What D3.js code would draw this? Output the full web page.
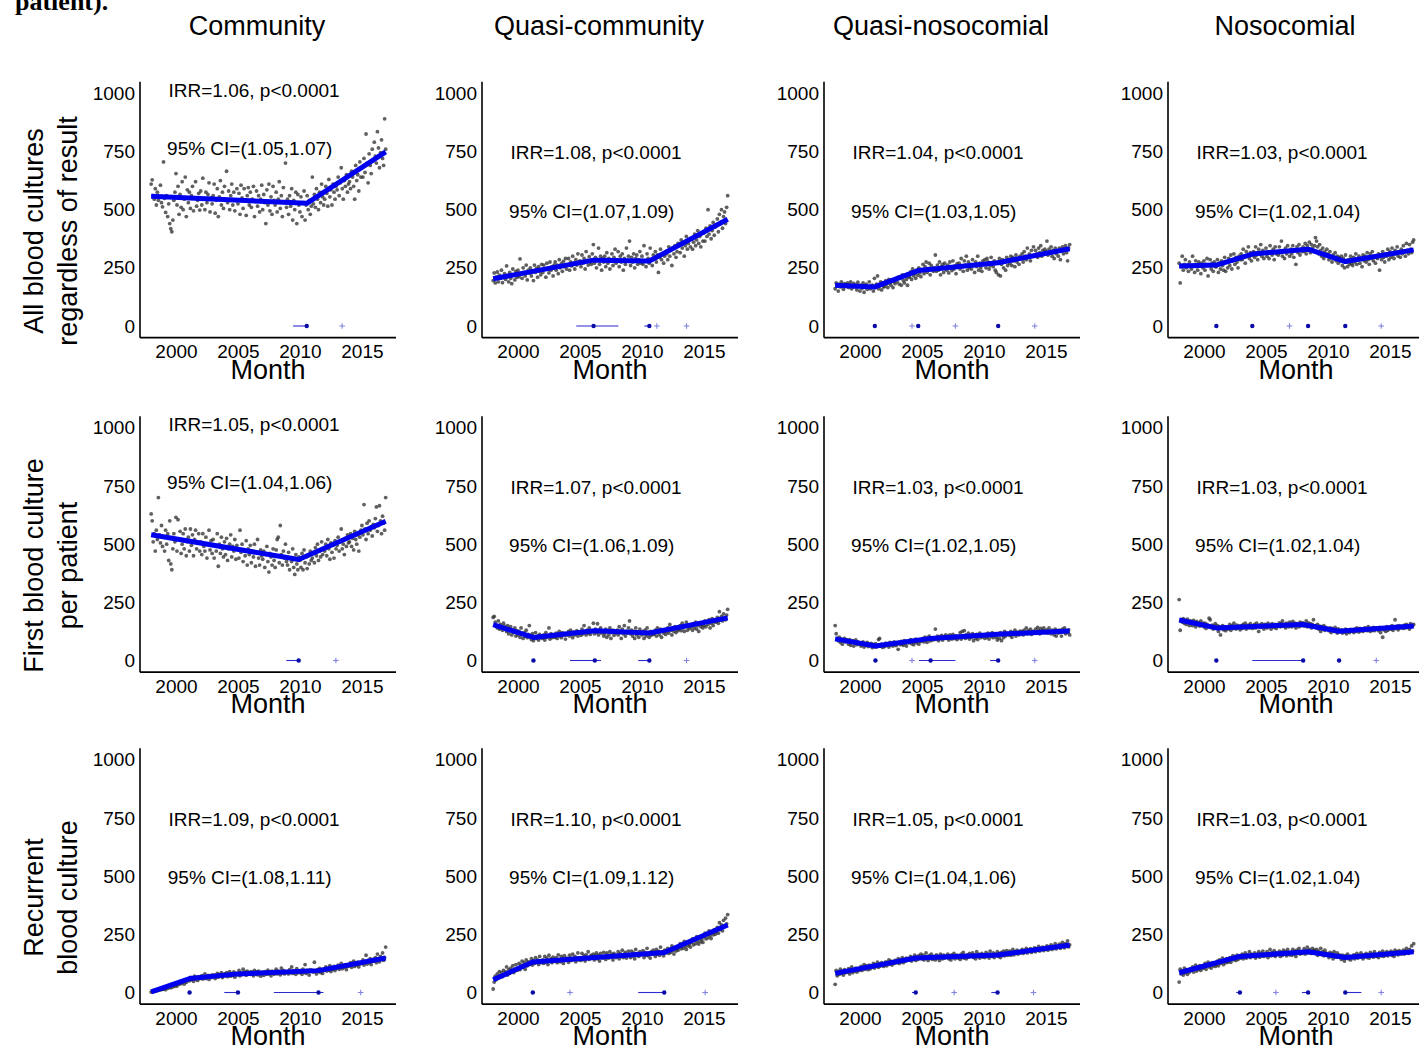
<!DOCTYPE html>
<html>
<head>
<meta charset="utf-8">
<script src="https://cdn.jsdelivr.net/npm/d3@7"></script>
<style>
  body { margin: 0; background: #ffffff; }
  svg { display: block; font-family: "Liberation Sans", Arial, Helvetica, sans-serif; }
</style>
</head>
<body>
<svg id="chart" width="1419" height="1048"></svg>
<script>
// ---- labels and ticks ----
const colTitles = ["Community", "Quasi-community", "Quasi-nosocomial", "Nosocomial"];
const rowTitles = [
  ["All blood cultures", "regardless of result"],
  ["First blood culture", "per patient"],
  ["Recurrent", "blood culture"]
];
const yearTicks = [2000, 2005, 2010, 2015];
const countTicks = [0, 250, 500, 750, 1000];
const seriesStartYear = 1998; // monthly series, Jan 1998 .. Dec 2016

// ---- incidence rate ratios: [IRR, CI low, CI high], one entry per column ----
const irrAll = [["1.06", "1.05", "1.07"], ["1.08", "1.07", "1.09"], ["1.04", "1.03", "1.05"], ["1.03", "1.02", "1.04"]];
const irrFirst = [["1.05", "1.04", "1.06"], ["1.07", "1.06", "1.09"], ["1.03", "1.02", "1.05"], ["1.03", "1.02", "1.04"]];
const irrRecurrent = [["1.09", "1.08", "1.11"], ["1.10", "1.09", "1.12"], ["1.05", "1.04", "1.06"], ["1.03", "1.02", "1.04"]];

// ---- monthly counts ----
const allCommunity = [
  610,628,560,545,590,520,575,540,555,605,530,512,
  705,548,488,560,470,525,440,418,405,455,540,575,
  655,520,600,480,565,510,620,500,545,640,470,585,
  530,575,505,560,600,495,550,620,515,540,570,498,
  580,520,635,545,500,575,530,565,615,490,550,525,
  560,610,485,540,590,470,555,625,520,575,505,600,
  545,665,530,580,500,560,610,520,575,495,540,590,
  525,570,480,605,550,505,590,540,475,560,595,520,
  575,510,545,600,470,535,580,515,560,490,545,605,
  500,565,530,440,585,520,610,495,555,480,600,540,
  520,575,490,545,620,505,560,470,595,530,700,510,
  545,480,560,515,590,455,540,500,575,440,565,520,
  490,555,470,530,580,455,520,560,500,540,480,515,
  640,525,565,510,590,545,500,575,530,610,555,520,
  545,600,570,515,630,555,585,520,610,575,545,600,
  585,640,560,615,680,590,545,625,600,650,575,610,
  620,590,665,640,600,545,690,625,650,580,705,640,
  680,640,720,660,825,700,615,740,690,655,760,710,
  790,730,700,835,765,680,745,800,720,690,890,760
];
const allQuasiCommunity = [
  195,228,185,210,232,190,218,205,240,186,212,225,
  200,258,215,190,230,205,182,245,220,198,235,210,
  240,212,288,225,205,250,230,215,262,198,240,228,
  250,215,238,195,262,230,248,210,255,235,220,265,
  230,262,245,210,270,250,228,275,240,255,215,262,
  275,240,262,225,285,250,268,235,278,255,290,245,
  262,290,240,275,258,300,270,245,285,262,310,275,
  280,255,305,270,290,245,320,282,262,298,275,265,
  310,350,270,295,250,285,335,265,300,240,290,275,
  300,255,315,270,290,245,280,310,260,295,330,270,
  285,320,255,300,275,310,240,290,265,335,280,300,
  365,260,295,275,310,250,290,305,265,285,320,270,
  300,265,345,280,255,310,290,270,335,285,260,305,
  290,320,275,305,230,295,330,285,310,270,300,320,
  310,285,340,300,325,260,335,310,345,295,320,355,
  350,315,370,335,360,300,345,385,330,355,370,340,
  375,330,360,395,345,370,410,355,385,340,400,365,
  400,365,420,385,500,395,430,375,410,445,390,425,
  430,460,405,480,445,500,420,470,490,440,510,560
];
const allQuasiNosocomial = [
  160,185,172,150,180,168,190,175,158,182,170,178,
  185,165,178,190,160,172,183,168,176,155,188,170,
  150,175,162,185,145,170,180,158,168,190,160,172,
  175,150,205,165,180,215,160,172,190,155,185,168,
  170,195,180,165,200,185,175,198,165,190,182,205,
  190,210,180,205,175,220,195,185,215,200,175,212,
  210,232,200,245,215,225,205,240,218,250,228,212,
  240,265,225,255,275,230,248,270,220,260,242,235,
  250,305,235,262,240,275,220,255,265,230,270,248,
  240,262,228,275,250,238,280,245,258,225,268,252,
  270,245,290,255,235,280,262,300,240,275,250,265,
  245,285,260,230,275,255,300,240,270,250,235,280,
  265,285,250,290,275,245,260,295,270,255,280,240,
  230,275,220,290,215,265,285,250,275,240,295,260,
  285,270,300,260,295,280,255,305,275,290,265,300,
  290,310,275,320,300,285,335,295,310,280,325,300,
  340,300,325,310,295,335,315,345,300,325,310,330,
  320,365,305,330,315,340,300,325,290,335,310,320,
  300,335,285,325,340,310,330,345,315,280,335,350
];
const allNosocomial = [
  270,185,255,300,240,265,285,250,262,235,275,255,
  245,300,260,230,280,255,240,275,265,225,270,250,
  280,240,265,290,215,260,285,245,270,235,275,255,
  255,285,230,270,245,280,260,240,295,235,275,250,
  290,260,305,245,280,310,265,295,275,250,300,285,
  310,285,330,295,270,320,300,340,290,315,280,305,
  320,295,340,305,285,330,310,350,300,325,290,315,
  335,300,320,290,345,315,305,330,285,340,310,320,
  305,340,315,365,300,325,290,335,310,345,320,300,
  330,310,345,295,325,265,340,315,350,305,330,320,
  340,320,355,310,345,330,360,315,350,335,325,345,
  380,365,340,310,350,325,300,335,290,320,305,330,
  310,285,320,295,275,305,290,315,280,300,270,295,
  280,300,260,290,250,305,275,255,285,265,300,270,
  260,295,275,310,265,285,300,270,290,255,305,280,
  300,275,315,285,265,310,290,320,280,300,270,295,
  290,310,240,305,285,320,295,275,310,300,330,285,
  320,295,335,305,290,325,310,340,300,320,295,330,
  310,345,320,300,355,325,310,350,330,315,360,370
];
const firstCommunity = [
  630,600,510,545,470,560,520,700,540,505,580,490,
  530,470,560,500,545,430,600,415,390,480,545,510,
  615,470,605,520,555,460,500,545,480,565,450,510,
  530,470,565,495,540,450,520,560,480,505,545,470,
  510,455,545,490,470,530,440,500,560,475,515,460,
  520,440,495,470,545,405,500,460,530,480,445,510,
  455,525,430,480,500,540,445,490,470,520,435,495,
  480,440,560,465,500,425,475,450,515,410,480,455,
  495,420,470,445,500,405,465,520,440,410,475,450,
  435,470,400,455,490,425,380,460,445,410,480,430,
  400,475,520,530,420,580,455,410,470,440,500,425,
  410,465,390,440,425,480,400,370,455,415,390,445,
  430,400,460,390,475,420,445,395,455,415,470,430,
  440,465,420,485,450,500,430,470,445,510,455,480,
  470,500,450,520,480,435,505,465,495,440,515,480,
  495,530,470,510,565,480,500,455,525,490,540,505,
  510,545,490,525,475,555,520,500,540,470,530,560,
  580,540,670,565,520,590,545,600,560,575,535,585,
  570,610,660,555,580,665,600,545,620,590,560,700
];
const firstQuasiCommunity = [
  185,190,165,150,140,170,135,155,145,130,160,148,
  140,125,150,115,135,145,110,130,120,140,105,128,
  110,125,100,140,115,95,120,105,130,98,112,150,
  108,90,115,85,100,120,95,105,88,112,98,103,
  95,110,88,120,100,105,140,92,115,98,108,102,
  100,118,95,112,125,105,98,120,108,115,92,110,
  112,125,105,130,115,98,122,110,118,128,105,120,
  120,108,135,115,150,125,110,130,118,140,112,128,
  125,160,115,135,120,158,110,130,140,118,125,105,
  115,135,100,125,110,140,95,120,130,108,125,118,
  130,110,145,120,95,135,115,150,105,125,118,140,
  170,115,130,105,125,95,140,110,120,100,135,118,
  110,125,95,130,105,140,115,100,125,108,120,112,
  115,130,105,140,120,110,135,100,125,118,128,112,
  125,140,118,155,130,110,138,125,145,120,135,128,
  135,150,128,160,140,125,148,165,130,145,138,152,
  145,130,158,140,165,135,150,125,160,145,155,140,
  150,170,145,165,155,175,140,160,180,150,165,170,
  165,185,160,210,175,190,170,200,180,175,195,220
];
const firstQuasiNosocomial = [
  150,115,95,85,100,78,92,70,88,95,80,90,
  82,70,90,65,78,85,62,75,88,68,80,72,
  75,62,68,80,58,72,65,78,60,70,66,74,
  55,68,60,72,58,65,90,95,62,70,56,66,
  60,75,65,70,58,78,66,72,62,80,68,64,
  72,48,78,68,82,70,65,85,74,62,80,76,
  78,90,72,85,68,80,92,76,88,70,84,82,
  85,95,80,100,88,78,96,105,84,92,88,98,
  90,135,92,105,85,100,95,108,88,102,96,110,
  95,105,88,110,98,92,112,100,94,106,90,102,
  98,120,92,125,105,128,95,110,100,118,92,108,
  100,115,85,108,95,112,90,105,118,98,110,102,
  105,95,112,100,118,92,110,104,120,98,108,115,
  100,88,115,95,120,85,110,98,125,105,118,112,
  115,108,125,100,120,112,130,105,118,122,110,126,
  118,125,110,130,120,140,115,128,122,135,112,125,
  125,118,135,120,142,128,115,138,122,130,140,125,
  120,132,118,140,125,115,130,122,110,135,105,128,
  118,130,122,105,135,125,140,115,128,120,132,110
];
const firstNosocomial = [
  262,130,175,165,180,160,172,155,178,168,150,170,
  165,150,172,158,145,168,155,162,148,170,152,160,
  145,160,138,155,150,182,175,142,152,135,148,158,
  140,150,125,145,110,138,150,132,145,128,142,135,
  142,155,130,150,138,160,145,135,152,140,148,132,
  150,138,155,142,160,135,148,152,140,158,145,138,
  145,155,140,160,148,125,152,142,158,150,135,155,
  152,140,160,145,150,135,158,148,142,155,138,150,
  150,162,145,158,170,148,155,140,160,152,145,165,
  155,145,168,150,160,140,158,152,145,165,150,162,
  160,148,155,170,145,162,150,158,140,155,175,148,
  150,140,155,135,148,125,145,138,150,130,142,135,
  135,128,140,120,138,130,125,142,132,118,136,128,
  125,132,118,128,122,135,115,130,125,120,134,128,
  128,120,135,125,140,130,122,138,128,132,125,138,
  140,132,128,145,135,125,138,130,142,128,135,140,
  135,128,142,120,138,100,132,140,125,145,130,138,
  142,135,150,130,145,175,138,148,132,150,140,145,
  145,138,152,140,155,142,148,135,158,145,150,155
];
const recurrentCommunity = [
  2,5,8,4,10,6,12,9,14,11,16,13,
  15,20,12,25,18,22,28,20,30,24,35,27,
  32,28,40,35,45,38,42,50,36,48,44,55,
  58,50,65,55,62,48,70,58,64,52,68,60,
  62,72,58,68,80,60,66,74,56,70,64,76,
  68,75,60,72,82,66,78,70,85,64,74,80,
  72,85,68,78,90,70,80,75,88,66,82,76,
  80,95,72,85,78,100,82,88,74,92,80,86,
  78,90,84,72,95,80,88,76,92,84,70,86,
  82,74,90,85,78,96,80,88,72,92,84,78,
  85,100,80,92,88,76,105,84,95,80,90,86,
  90,80,98,86,110,82,94,88,78,102,86,92,
  85,95,78,100,88,120,82,96,90,75,98,92,
  95,88,130,92,80,98,90,104,86,96,82,100,
  98,110,92,104,96,115,90,106,100,112,94,108,
  105,118,100,112,125,102,115,108,120,98,112,118,
  115,128,108,120,135,112,125,118,130,110,122,128,
  125,140,118,132,160,122,138,128,145,120,135,142,
  135,150,128,165,140,132,155,145,170,138,150,195
];
const recurrentQuasiCommunity = [
  15,45,70,55,80,62,90,72,85,68,95,78,
  88,110,75,98,82,105,92,115,86,100,120,95,
  105,125,98,118,135,110,128,100,140,115,132,120,
  130,145,118,138,125,150,132,140,120,155,135,128,
  140,125,155,132,148,120,160,138,145,128,152,136,
  135,150,128,162,140,132,155,145,125,158,142,148,
  145,130,160,148,138,165,142,155,132,150,170,140,
  150,138,168,145,158,135,162,148,175,142,155,160,
  148,165,140,158,170,145,160,135,168,155,148,172,
  155,142,170,160,148,175,152,165,140,168,158,150,
  160,175,145,168,155,182,150,165,172,148,160,178,
  162,150,178,158,170,145,185,160,168,155,175,165,
  165,180,150,172,160,190,158,170,148,175,165,182,
  170,155,185,165,178,160,195,168,175,158,182,170,
  175,190,168,185,172,200,180,165,192,178,188,182,
  195,210,188,205,190,220,198,185,215,200,208,195,
  215,230,205,225,210,240,220,208,235,218,228,215,
  240,255,230,250,235,265,245,232,260,248,270,250,
  260,280,255,300,270,290,265,310,285,320,295,335
];
const recurrentQuasiNosocomial = [
  35,95,72,88,78,100,82,92,75,98,85,90,
  88,102,80,96,110,85,98,92,105,88,100,94,
  98,112,95,108,120,100,115,105,98,118,102,110,
  110,125,105,120,112,130,108,122,115,128,118,112,
  120,132,115,128,140,122,135,118,130,125,138,128,
  130,145,125,140,132,150,128,142,135,148,138,145,
  140,155,135,150,145,160,138,152,142,158,148,165,
  145,160,140,155,170,148,138,158,150,165,142,155,
  150,140,162,148,155,138,165,152,145,160,148,156,
  152,165,145,158,140,162,150,168,145,155,160,148,
  155,142,165,150,172,148,158,145,162,152,168,155,
  158,170,150,162,145,175,155,165,148,160,168,152,
  160,150,172,158,165,148,178,160,155,170,150,165,
  162,175,155,168,150,172,160,178,158,165,180,160,
  165,178,160,172,185,162,175,168,182,165,175,170,
  172,185,168,180,175,190,170,182,178,188,172,180,
  180,192,175,188,182,198,178,190,185,195,180,188,
  188,200,182,195,190,205,185,198,192,210,188,196,
  195,208,190,202,215,198,192,210,200,222,196,205
];
const recurrentNosocomial = [
  45,100,80,92,75,105,85,98,78,95,88,102,
  95,110,88,105,118,92,108,100,115,95,112,104,
  108,125,100,118,130,110,122,105,128,115,120,112,
  120,135,115,140,125,132,148,120,138,128,145,130,
  135,150,130,145,158,140,152,138,160,142,155,148,
  150,165,145,158,170,148,162,155,175,150,165,158,
  155,170,148,165,158,175,152,168,160,178,155,165,
  160,175,150,168,185,158,172,162,180,155,170,165,
  165,178,155,172,160,182,168,175,158,185,170,162,
  170,160,185,165,178,155,182,172,190,165,175,168,
  175,188,165,180,195,170,185,175,168,190,178,182,
  172,185,160,178,168,190,165,175,158,182,170,162,
  165,150,172,158,168,145,175,160,152,170,155,162,
  155,142,160,148,135,158,150,165,145,155,140,152,
  150,162,145,158,168,148,160,152,170,155,145,162,
  155,168,150,162,148,172,158,165,152,175,160,155,
  160,150,172,165,158,178,155,168,162,175,158,170,
  165,178,160,172,155,182,168,175,162,180,170,165,
  170,182,165,178,190,172,168,185,175,200,178,210
];

// ---- fitted segmented trend: knot years and fitted counts ----
const fitYearsAllCommunity = [1998.0, 2010.55, 2016.92];
const fitCountsAllCommunity = [558, 527, 748];
const fitYearsAllQuasiCommunity = [1998.0, 2006.1, 2010.6, 2016.92];
const fitCountsAllQuasiCommunity = [203, 283, 279, 459];
const fitYearsAllQuasiNosocomial = [1998.0, 2001.2, 2004.7, 2011.15, 2016.92];
const fitCountsAllQuasiNosocomial = [175, 168, 238, 272, 332];
const fitYearsAllNosocomial = [1998.0, 2001.0, 2003.9, 2008.4, 2011.4, 2016.92];
const fitCountsAllNosocomial = [258, 262, 309, 330, 277, 327];
const fitYearsFirstCommunity = [1998.0, 2009.9, 2016.92];
const fitCountsFirstCommunity = [540, 434, 598];
const fitYearsFirstQuasiCommunity = [1998.0, 2001.25, 2006.2, 2010.6, 2016.92];
const fitCountsFirstQuasiCommunity = [154, 99, 128, 118, 183];
const fitYearsFirstQuasiNosocomial = [1998.0, 2001.25, 2005.7, 2011.15, 2016.92];
const fitCountsFirstQuasiNosocomial = [93, 62, 95, 113, 127];
const fitYearsFirstNosocomial = [1998.0, 2001.0, 2008.0, 2010.9, 2016.92];
const fitCountsFirstNosocomial = [174, 140, 155, 126, 148];
const fitYearsRecurrentCommunity = [1998.0, 2001.1, 2005.0, 2011.5, 2016.92];
const fitCountsRecurrentCommunity = [3, 60, 80, 94, 148];
const fitYearsRecurrentQuasiCommunity = [1998.0, 2001.2, 2011.8, 2016.92];
const fitCountsRecurrentQuasiCommunity = [55, 131, 172, 290];
const fitYearsRecurrentQuasiNosocomial = [1998.0, 2004.5, 2011.1, 2016.92];
const fitCountsRecurrentQuasiNosocomial = [82, 148, 161, 204];
const fitYearsRecurrentNosocomial = [1998.0, 2002.9, 2008.4, 2011.4, 2016.92];
const fitCountsRecurrentNosocomial = [85, 155, 175, 150, 175];

// ---- estimated breakpoints [estimate, CI low, CI high] and candidate change points ----
const breaksAllCommunity = [[2010.55, 2009.45, 2010.6]];
const candidatesAllCommunity = [2013.4];
const breaksAllQuasiCommunity = [[2006.1, 2004.7, 2008.1], [2010.6, 2010.2, 2010.65]];
const candidatesAllQuasiCommunity = [2011.2, 2013.6];
const breaksAllQuasiNosocomial = [[2001.2, 2001.15, 2001.25], [2004.7, 2004.65, 2004.75], [2011.15, 2011.1, 2011.2]];
const candidatesAllQuasiNosocomial = [2004.2, 2007.7, 2014.1];
const breaksAllNosocomial = [[2001.0, 2000.95, 2001.05], [2003.9, 2003.85, 2003.95], [2008.4, 2008.35, 2008.45], [2011.4, 2011.35, 2011.45]];
const candidatesAllNosocomial = [2006.9, 2014.3];
const breaksFirstCommunity = [[2009.9, 2008.9, 2009.95]];
const candidatesFirstCommunity = [2012.9];
const breaksFirstQuasiCommunity = [[2001.25, 2001.2, 2001.3], [2006.2, 2004.2, 2006.7], [2010.6, 2009.7, 2010.65]];
const candidatesFirstQuasiCommunity = [2013.6];
const breaksFirstQuasiNosocomial = [[2001.25, 2001.2, 2001.3], [2005.7, 2004.75, 2007.7], [2011.15, 2010.5, 2011.2]];
const candidatesFirstQuasiNosocomial = [2004.2, 2014.1];
const breaksFirstNosocomial = [[2001.0, 2000.95, 2001.05], [2008.0, 2003.9, 2008.05], [2010.9, 2010.85, 2010.95]];
const candidatesFirstNosocomial = [2013.9];
const breaksRecurrentCommunity = [[2001.1, 2001.05, 2001.15], [2005.0, 2003.9, 2005.1], [2011.5, 2007.9, 2011.9]];
const candidatesRecurrentCommunity = [2014.9];
const breaksRecurrentQuasiCommunity = [[2001.2, 2001.15, 2001.25], [2011.8, 2009.7, 2011.9]];
const candidatesRecurrentQuasiCommunity = [2004.2, 2015.1];
const breaksRecurrentQuasiNosocomial = [[2004.5, 2004.2, 2004.6], [2011.1, 2010.6, 2011.15]];
const candidatesRecurrentQuasiNosocomial = [2007.6, 2014.0];
const breaksRecurrentNosocomial = [[2002.9, 2002.6, 2002.95], [2008.4, 2007.9, 2008.45], [2011.4, 2011.4, 2012.7]];
const candidatesRecurrentNosocomial = [2005.8, 2014.3];

// ---- panel table ----
const panels = [
  {row: 0, col: 0, counts: allCommunity, fx: fitYearsAllCommunity, fy: fitCountsAllCommunity, breaks: breaksAllCommunity, cands: candidatesAllCommunity, irr: irrAll[0]},
  {row: 0, col: 1, counts: allQuasiCommunity, fx: fitYearsAllQuasiCommunity, fy: fitCountsAllQuasiCommunity, breaks: breaksAllQuasiCommunity, cands: candidatesAllQuasiCommunity, irr: irrAll[1]},
  {row: 0, col: 2, counts: allQuasiNosocomial, fx: fitYearsAllQuasiNosocomial, fy: fitCountsAllQuasiNosocomial, breaks: breaksAllQuasiNosocomial, cands: candidatesAllQuasiNosocomial, irr: irrAll[2]},
  {row: 0, col: 3, counts: allNosocomial, fx: fitYearsAllNosocomial, fy: fitCountsAllNosocomial, breaks: breaksAllNosocomial, cands: candidatesAllNosocomial, irr: irrAll[3]},
  {row: 1, col: 0, counts: firstCommunity, fx: fitYearsFirstCommunity, fy: fitCountsFirstCommunity, breaks: breaksFirstCommunity, cands: candidatesFirstCommunity, irr: irrFirst[0]},
  {row: 1, col: 1, counts: firstQuasiCommunity, fx: fitYearsFirstQuasiCommunity, fy: fitCountsFirstQuasiCommunity, breaks: breaksFirstQuasiCommunity, cands: candidatesFirstQuasiCommunity, irr: irrFirst[1]},
  {row: 1, col: 2, counts: firstQuasiNosocomial, fx: fitYearsFirstQuasiNosocomial, fy: fitCountsFirstQuasiNosocomial, breaks: breaksFirstQuasiNosocomial, cands: candidatesFirstQuasiNosocomial, irr: irrFirst[2]},
  {row: 1, col: 3, counts: firstNosocomial, fx: fitYearsFirstNosocomial, fy: fitCountsFirstNosocomial, breaks: breaksFirstNosocomial, cands: candidatesFirstNosocomial, irr: irrFirst[3]},
  {row: 2, col: 0, counts: recurrentCommunity, fx: fitYearsRecurrentCommunity, fy: fitCountsRecurrentCommunity, breaks: breaksRecurrentCommunity, cands: candidatesRecurrentCommunity, irr: irrRecurrent[0]},
  {row: 2, col: 1, counts: recurrentQuasiCommunity, fx: fitYearsRecurrentQuasiCommunity, fy: fitCountsRecurrentQuasiCommunity, breaks: breaksRecurrentQuasiCommunity, cands: candidatesRecurrentQuasiCommunity, irr: irrRecurrent[1]},
  {row: 2, col: 2, counts: recurrentQuasiNosocomial, fx: fitYearsRecurrentQuasiNosocomial, fy: fitCountsRecurrentQuasiNosocomial, breaks: breaksRecurrentQuasiNosocomial, cands: candidatesRecurrentQuasiNosocomial, irr: irrRecurrent[2]},
  {row: 2, col: 3, counts: recurrentNosocomial, fx: fitYearsRecurrentNosocomial, fy: fitCountsRecurrentNosocomial, breaks: breaksRecurrentNosocomial, cands: candidatesRecurrentNosocomial, irr: irrRecurrent[3]}
];

// ---- layout ----
const panelSize = 256;
const colLeft = [140, 482, 824, 1168];
const rowZero = [326, 660.5, 992.5];   // pixel row of the zero count line
const yDomain = [-50, 1050];
const xDomain = [1997.1, 2017.75];
const zeroOffset = panelSize * yDomain[1] / (yDomain[1] - yDomain[0]);

const svg = d3.select("#chart");
svg.append("rect").attr("width", 1419).attr("height", 1048).attr("fill", "#ffffff");

// caption fragment at the very top
svg.append("text")
  .attr("x", 15).attr("y", 10)
  .attr("font-family", "'Liberation Serif', 'Times New Roman', serif")
  .attr("font-weight", "bold").attr("font-size", 26)
  .attr("fill", "#000").text("patient).");

// column titles
colTitles.forEach((t, c) => {
  svg.append("text")
    .attr("x", colLeft[c] + 117).attr("y", 35)
    .attr("text-anchor", "middle").attr("font-size", 27)
    .attr("fill", "#000").text(t);
});

// row titles (rotated, two lines)
rowTitles.forEach((lines, r) => {
  const cy = rowZero[r] - 95;
  const g = svg.append("g");
  [43, 77].forEach((bx, i) => {
    g.append("text")
      .attr("transform", `translate(${bx},${cy}) rotate(-90)`)
      .attr("text-anchor", "middle").attr("font-size", 27)
      .attr("fill", "#000").text(lines[i]);
  });
});

panels.forEach(p => {
  const left = colLeft[p.col];
  const top = rowZero[p.row] - zeroOffset;
  const x = d3.scaleLinear().domain(xDomain).range([0, panelSize]);
  const y = d3.scaleLinear().domain(yDomain).range([panelSize, 0]);
  const g = svg.append("g").attr("transform", `translate(${left},${top})`);

  // y axis: labels only, plus the axis line
  const yAxis = d3.axisLeft(y).tickValues(countTicks).tickSize(0).tickPadding(5).tickFormat(d3.format("d"));
  const ya = g.append("g").call(yAxis);
  ya.select(".domain").remove();
  ya.selectAll("text").attr("font-size", 19).attr("fill", "#000")
    .attr("font-family", "'Liberation Sans', Arial, sans-serif");

  const xAxis = d3.axisBottom(x).tickValues(yearTicks).tickSize(0).tickPadding(7).tickFormat(d3.format("d"));
  const xa = g.append("g").attr("transform", `translate(0,${panelSize})`).call(xAxis);
  xa.select(".domain").remove();
  xa.selectAll("text").attr("font-size", 19).attr("fill", "#000")
    .attr("font-family", "'Liberation Sans', Arial, sans-serif");

  g.append("line").attr("x1", 0).attr("x2", 0).attr("y1", 0).attr("y2", panelSize)
    .attr("stroke", "#000").attr("stroke-width", 1.6);
  g.append("line").attr("x1", 0).attr("x2", panelSize).attr("y1", panelSize).attr("y2", panelSize)
    .attr("stroke", "#000").attr("stroke-width", 1.6);

  // x axis title
  g.append("text")
    .attr("x", panelSize / 2).attr("y", panelSize + 41)
    .attr("text-anchor", "middle").attr("font-size", 27)
    .attr("fill", "#000").text("Month");

  // monthly observations
  g.append("g").selectAll("circle")
    .data(p.counts)
    .join("circle")
    .attr("cx", (d, i) => x(seriesStartYear + i / 12))
    .attr("cy", d => y(d))
    .attr("r", 1.9)
    .attr("fill", "#333333")
    .attr("fill-opacity", 0.78);

  // fitted segmented trend
  const fitPts = p.fx.map((v, i) => [v, p.fy[i]]);
  g.append("path")
    .datum(fitPts)
    .attr("d", d3.line().x(d => x(d[0])).y(d => y(d[1])))
    .attr("fill", "none")
    .attr("stroke", "#0000ee")
    .attr("stroke-width", 5)
    .attr("stroke-linejoin", "round")
    .attr("stroke-linecap", "butt");

  // breakpoints with confidence intervals on the zero line
  const y0 = y(0);
  g.append("g").selectAll("line")
    .data(p.breaks)
    .join("line")
    .attr("x1", d => x(d[1])).attr("x2", d => x(d[2]))
    .attr("y1", y0).attr("y2", y0)
    .attr("stroke", "#2b2bd0").attr("stroke-width", 1.1);
  g.append("g").selectAll("circle")
    .data(p.breaks)
    .join("circle")
    .attr("cx", d => x(d[0])).attr("cy", y0)
    .attr("r", 2.2).attr("fill", "#0a0aa8");
  const plus = g.append("g").selectAll("g")
    .data(p.cands)
    .join("g")
    .attr("transform", d => `translate(${x(d)},${y0})`);
  plus.append("line").attr("x1", -2.8).attr("x2", 2.8).attr("y1", 0).attr("y2", 0)
    .attr("stroke", "#8585e0").attr("stroke-width", 1.1);
  plus.append("line").attr("x1", 0).attr("x2", 0).attr("y1", -2.8).attr("y2", 2.8)
    .attr("stroke", "#8585e0").attr("stroke-width", 1.1);

  // IRR annotation
  const high = p.col === 0 && p.row < 2;
  const irrY = high ? 1013 : 745;
  const ciY = high ? 764 : 493;
  g.append("text")
    .attr("x", x(2006.3)).attr("y", y(irrY)).attr("dy", "0.35em")
    .attr("text-anchor", "middle").attr("font-size", 19).attr("fill", "#000")
    .text(`IRR=${p.irr[0]}, p<0.0001`);
  g.append("text")
    .attr("x", x(2005.95)).attr("y", y(ciY)).attr("dy", "0.35em")
    .attr("text-anchor", "middle").attr("font-size", 19).attr("fill", "#000")
    .text(`95% CI=(${p.irr[1]},${p.irr[2]})`);
});
</script>
</body>
</html>
